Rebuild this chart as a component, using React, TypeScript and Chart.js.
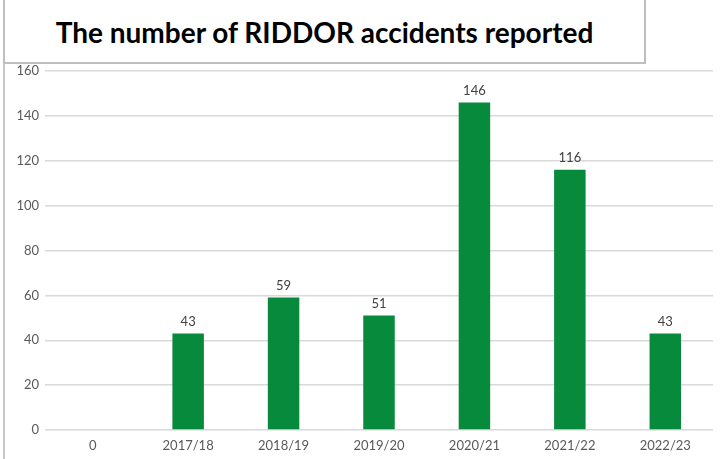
import React, { useEffect, useRef } from "react";
import { Chart, registerables } from "chart.js";

Chart.register(...registerables);

const categories = ["0", "2017/18", "2018/19", "2019/20", "2020/21", "2021/22", "2022/23"];
const accidents: (number | null)[] = [null, 43, 59, 51, 146, 116, 43];
const yTicks = [0, 20, 40, 60, 80, 100, 120, 140, 160];
const titleText = "The number of RIDDOR accidents reported";

const FONT = "Lato, 'Open Sans', sans-serif";

const valueLabels = {
  id: "valueLabels",
  afterDatasetsDraw(chart: any) {
    const ctx = chart.ctx;
    const meta = chart.getDatasetMeta(0);
    ctx.save();
    ctx.font = `13px ${FONT}`;
    ctx.fillStyle = "#404040";
    ctx.textAlign = "center";
    ctx.textBaseline = "bottom";
    meta.data.forEach((bar: any, i: number) => {
      const v = chart.data.datasets[0].data[i];
      if (v === null || v === undefined) return;
      ctx.fillText(String(v), bar.x, bar.y - 5);
    });
    ctx.restore();
  },
};

export default function App() {
  const ref = useRef<HTMLCanvasElement | null>(null);

  useEffect(() => {
    document.body.style.margin = "0";
    const chart = new Chart(ref.current as HTMLCanvasElement, {
      type: "bar",
      data: {
        labels: categories,
        datasets: [
          {
            data: accidents,
            backgroundColor: "#078a3b",
            barPercentage: 0.33,
            categoryPercentage: 1,
          },
        ],
      },
      options: {
        animation: false,
        responsive: false,
        maintainAspectRatio: false,
        layout: { padding: { top: 71, right: 13, left: 0, bottom: 0 } },
        plugins: {
          legend: { display: false },
          tooltip: { enabled: false },
          title: { display: false },
        },
        scales: {
          x: {
            grid: { display: false },
            border: { display: false },
            ticks: { color: "#595959", font: { family: FONT, size: 13 }, padding: 0 },
            afterFit: (s: any) => {
              s.height = 29;
            },
          },
          y: {
            min: 0,
            max: 160,
            afterBuildTicks: (s: any) => {
              s.ticks = yTicks.map((v) => ({ value: v }));
            },
            grid: { color: "#d9d9d9", lineWidth: 1.5, drawTicks: false },
            border: { display: false },
            ticks: { color: "#595959", font: { family: FONT, size: 13 }, padding: 6 },
            afterFit: (s: any) => {
              s.width = 45;
            },
          },
        },
      },
      plugins: [valueLabels],
    });
    return () => chart.destroy();
  }, []);

  return (
    <div style={{ position: "fixed", left: 0, top: 0, width: 726, height: 459, background: "#fff", overflow: "hidden" }}>
      <div
        style={{
          position: "absolute",
          left: 3,
          top: 0,
          width: 0,
          height: 459,
          borderLeft: "2px solid #c8c8c8",
        }}
      />
      <canvas ref={ref} width={726} height={459} style={{ position: "absolute", left: 0, top: 0 }} />
      <div
        style={{
          position: "absolute",
          left: 3,
          top: -2,
          width: 639,
          height: 62,
          border: "2px solid #bfbfbf",
          background: "#fff",
          display: "flex",
          alignItems: "center",
          justifyContent: "center",
          fontFamily: FONT,
          fontWeight: 700,
          fontSize: 28,
          color: "#000",
          boxSizing: "content-box",
        }}
      >
        <span style={{ marginLeft: 0, marginTop: 2 }}>{titleText}</span>
      </div>
    </div>
  );
}
